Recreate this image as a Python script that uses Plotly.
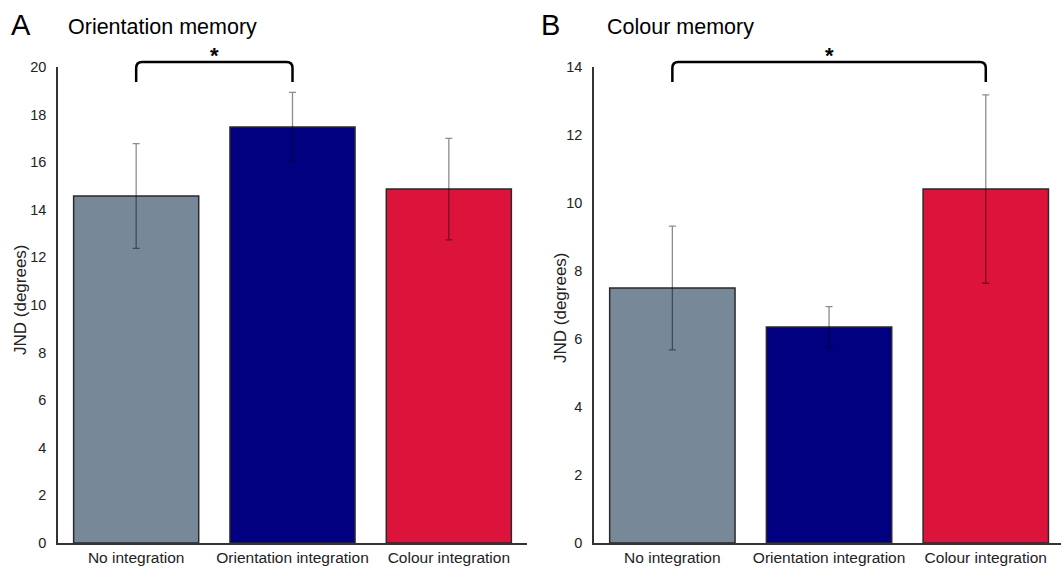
import plotly.graph_objects as go

categories = ["No integration", "Orientation integration", "Colour integration"]
colors = ["#778899", "#000080", "#DC143C"]

orient_means = [14.58, 17.48, 14.87]
orient_err = [2.2, 1.45, 2.13]

colour_means = [7.5, 6.35, 10.41]
colour_err = [1.82, 0.6, 2.77]

W, H = 1061, 571
def px(x):
    return x / W
def py(y):
    return 1 - y / H

fig = go.Figure()

for means, errs, xa, ya in [(orient_means, orient_err, "x", "y"), (colour_means, colour_err, "x2", "y2")]:
    fig.add_trace(go.Bar(
        x=list(range(len(categories))), y=means,
        marker=dict(color=colors, line=dict(color="#2a2a2a", width=1.5)),
        width=0.8,
        error_y=dict(type="data", array=errs, visible=True, color="rgba(0,0,0,0.45)", thickness=1.3, width=3.5),
        xaxis=xa, yaxis=ya, showlegend=False, hoverinfo="skip",
    ))

font = "Liberation Sans, Arial, sans-serif"
ydom = [py(543), py(67)]
axis_common = dict(showgrid=False, zeroline=False, showline=True, linecolor="#333333", linewidth=1.5,
                   automargin=False)
xtickfont = dict(family=font, size=15.5, color="#222222")
ytickfont = dict(family=font, size=14.5, color="#222222")

fig.update_layout(
    width=W, height=H,
    margin=dict(l=0, r=0, t=0, b=0, pad=0),
    plot_bgcolor="white", paper_bgcolor="white",
    xaxis=dict(domain=[px(58), px(527)], range=[-0.5, 2.5], tickmode="array",
               tickvals=[0, 1, 2], ticktext=categories, ticks="", anchor="y", tickfont=xtickfont, **axis_common),
    yaxis=dict(domain=ydom, range=[0, 20], tickmode="array", tickvals=list(range(0, 21, 2)),
               ticks="outside", ticklen=7, tickcolor="rgba(0,0,0,0)", anchor="x", tickfont=ytickfont, **axis_common),
    xaxis2=dict(domain=[px(594), 1.0], range=[-0.5, 2.48], tickmode="array",
                tickvals=[0, 1, 2], ticktext=categories, ticks="", anchor="y2", tickfont=xtickfont, **axis_common),
    yaxis2=dict(domain=ydom, range=[0, 14], tickmode="array", tickvals=list(range(0, 15, 2)),
                ticks="outside", ticklen=7, tickcolor="rgba(0,0,0,0)", anchor="x2", tickfont=ytickfont, **axis_common),
)

ann = []
ann.append(dict(text="A", x=px(9), y=py(25), xref="paper", yref="paper", xanchor="left", yanchor="middle",
                showarrow=False, font=dict(family=font, size=29, color="black")))
ann.append(dict(text="Orientation memory", x=px(66), y=py(27), xref="paper", yref="paper", xanchor="left",
                yanchor="middle", showarrow=False, font=dict(family=font, size=21.5, color="black")))
ann.append(dict(text="B", x=px(539), y=py(25), xref="paper", yref="paper", xanchor="left", yanchor="middle",
                showarrow=False, font=dict(family=font, size=29, color="black")))
ann.append(dict(text="Colour memory", x=px(605), y=py(27), xref="paper", yref="paper", xanchor="left",
                yanchor="middle", showarrow=False, font=dict(family=font, size=21.5, color="black")))
ann.append(dict(text="JND (degrees)", x=px(20), y=py(300), xref="paper", yref="paper", textangle=-90,
                xanchor="center", yanchor="middle",
                showarrow=False, font=dict(family=font, size=17, color="#222222")))
ann.append(dict(text="JND (degrees)", x=px(560), y=py(308), xref="paper", yref="paper", textangle=-90,
                xanchor="center", yanchor="middle",
                showarrow=False, font=dict(family=font, size=17, color="#222222")))
ann.append(dict(text="<b>*</b>", x=0.5, y=py(56), xref="x", yref="paper", showarrow=False,
                xanchor="center", yanchor="middle",
                font=dict(family=font, size=22, color="black")))
ann.append(dict(text="<b>*</b>", x=1.0, y=py(56), xref="x2", yref="paper", showarrow=False,
                xanchor="center", yanchor="middle",
                font=dict(family=font, size=22, color="black")))
fig.update_layout(annotations=ann)

def bracket(x0, x1, rx):
    yb, yt = py(82), py(62)
    ry = 6 / H
    return (f"M {x0},{yb} L {x0},{yt - ry} Q {x0},{yt} {x0 + rx},{yt} "
            f"L {x1 - rx},{yt} Q {x1},{yt} {x1},{yt - ry} L {x1},{yb}")

fig.add_shape(type="path", path=bracket(0, 1, 6 / 156.3), xref="x", yref="paper",
              line=dict(color="black", width=2.5))
fig.add_shape(type="path", path=bracket(0, 2, 6 / 156.7), xref="x2", yref="paper",
              line=dict(color="black", width=2.5))

fig.write_html("out.html", config={"displayModeBar": False},
               post_script="document.body.style.margin='0';document.body.style.overflow='hidden';")
